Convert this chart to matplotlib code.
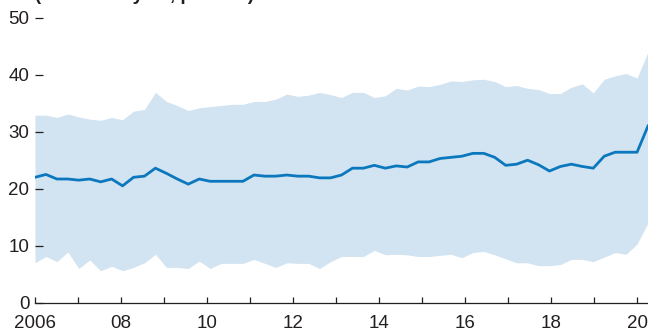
import numpy as np
import matplotlib
matplotlib.use("Agg")
import matplotlib.pyplot as plt
from matplotlib.ticker import MultipleLocator, FixedLocator

plt.rcParams['font.family'] = ['Liberation Sans', 'DejaVu Sans']

# quarterly observations, 2006 through 2020
periods = np.linspace(2006, 2020.25, 57)

median = [22.0, 22.5, 21.7, 21.7, 21.5, 21.7, 21.2, 21.7, 20.5, 22.0,
          22.2, 23.6, 22.7, 21.7, 20.8, 21.7, 21.3, 21.3, 21.3, 21.3,
          22.4, 22.2, 22.2, 22.4, 22.2, 22.2, 21.9, 21.9, 22.4, 23.6,
          23.6, 24.1, 23.6, 24.0, 23.8, 24.7, 24.7, 25.3, 25.5, 25.7,
          26.2, 26.2, 25.5, 24.1, 24.3, 25.0, 24.2, 23.1, 23.9, 24.3,
          23.9, 23.6, 25.7, 26.4, 26.4, 26.4, 31.0]

upper = [32.9, 32.9, 32.5, 33.1, 32.6, 32.2, 32.0, 32.5, 32.1, 33.6,
         33.9, 36.9, 35.3, 34.6, 33.7, 34.2, 34.4, 34.6, 34.8, 34.8,
         35.3, 35.3, 35.7, 36.6, 36.2, 36.4, 36.9, 36.5, 36.0, 36.9,
         36.9, 36.0, 36.3, 37.6, 37.3, 38.0, 37.9, 38.3, 38.9, 38.8,
         39.1, 39.2, 38.8, 37.9, 38.1, 37.6, 37.4, 36.7, 36.7, 37.8,
         38.4, 36.8, 39.2, 39.8, 40.2, 39.4, 44.0]

lower = [7.0, 8.1, 7.2, 8.9, 6.0, 7.5, 5.6, 6.4, 5.6, 6.2,
         7.0, 8.5, 6.2, 6.2, 6.0, 7.3, 6.0, 6.9, 6.9, 6.9,
         7.6, 6.9, 6.2, 7.0, 6.9, 6.9, 6.0, 7.2, 8.1, 8.1,
         8.1, 9.2, 8.4, 8.5, 8.4, 8.1, 8.1, 8.3, 8.5, 7.9,
         8.8, 9.0, 8.4, 7.7, 7.0, 7.0, 6.5, 6.5, 6.7, 7.6,
         7.6, 7.2, 8.0, 8.8, 8.5, 10.3, 14.0]

year_ticks = list(range(2006, 2021))
year_labels = ['2006' if y == 2006 else f"{y % 100:02d}" if y % 2 == 0 else ''
               for y in year_ticks]

band_color = '#d2e3f1'
line_color = '#0b78be'
ink = '#231f20'

fig = plt.figure(figsize=(6.48, 3.35), dpi=100)
ax = fig.add_axes([35 / 648, 32.3 / 335, 613 / 648, 285 / 335])

ax.fill_between(periods, lower, upper, color=band_color, linewidth=0, zorder=1)
ax.plot(periods, median, color=line_color, linewidth=2.0, zorder=2)

ax.set_xlim(2006, 2020.25)
ax.set_ylim(0, 50)

ax.xaxis.set_major_locator(FixedLocator(year_ticks))
ax.set_xticklabels(year_labels)
ax.yaxis.set_major_locator(MultipleLocator(10))

for side in ('top', 'right', 'left'):
    ax.spines[side].set_visible(False)
ax.spines['bottom'].set_color(ink)
ax.spines['bottom'].set_linewidth(0.9)

ax.tick_params(axis='x', direction='in', length=4.5, width=0.9, color=ink,
               labelsize=13.5, labelcolor=ink, pad=9)
ax.tick_params(axis='y', direction='in', length=5.5, width=0.9, color=ink,
               labelsize=13.5, labelcolor=ink, pad=4)
ax.set_axisbelow(False)

fig.text(35 / 648, 1.0, '(Year-over-year, percent)', ha='left', va='baseline',
         fontsize=13.5, fontweight='bold', color=ink)

fig.savefig('out.png', dpi=100)
